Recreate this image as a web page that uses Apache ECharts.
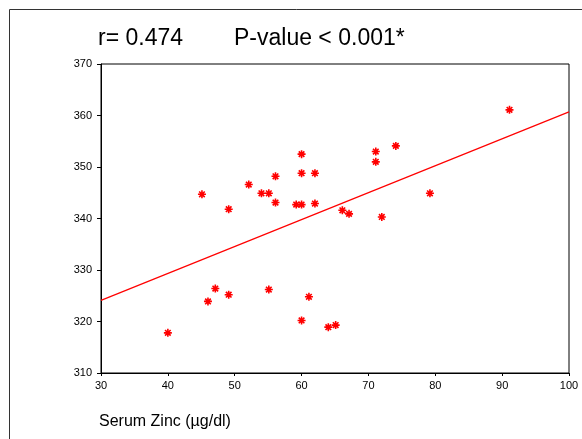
<!DOCTYPE html>
<html>
<head>
<meta charset="utf-8">
<script src="https://cdn.jsdelivr.net/npm/echarts@6/dist/echarts.min.js"></script>
<style>html,body{margin:0;padding:0;background:#fff}#c{width:582px;height:439px}</style>
</head>
<body>
<div id="c"></div>
<script>
const zincX = [40, 45.1, 49.1, 52.1, 54.0, 55.1, 56.1, 56.1, 59.2, 60.0, 60.0, 60.0, 62.0, 62.0, 66.1, 67.1, 71.1, 71.1, 74.1, 72.0, 79.2, 91.1, 46.0, 47.1, 49.1, 55.1, 61.1, 60.0, 64.0, 65.1];
const valueY = [317.8, 344.7, 341.8, 346.6, 344.9, 344.9, 348.2, 343.1, 342.7, 342.7, 352.5, 348.8, 348.8, 342.9, 341.6, 340.9, 353.0, 351.0, 354.1, 340.3, 344.9, 361.1, 323.9, 326.4, 325.2, 326.2, 324.8, 320.2, 318.9, 319.3];
const fitX = [30, 100];
const fitY = [324.1, 360.7];
const xTicks = {min: 30, max: 100, interval: 10};
const yTicks = {min: 310, max: 370, interval: 10};
const rText = 'r= 0.474';
const pText = 'P-value < 0.001*';
const xTitle = 'Serum Zinc (\u00b5g/dl)';

const points = zincX.map((x, i) => [x, valueY[i]]);
const fitLine = fitX.map((x, i) => [x, fitY[i]]);

const chart = echarts.init(document.getElementById('c'), null, {renderer: 'canvas'});
const star = 'path://M0 5 L10 5 M5 0 L5 10 M1.5 1.5 L8.5 8.5 M8.5 1.5 L1.5 8.5';
const titleFont = '23px "Liberation Sans", Arial';
chart.setOption({
  animation: false,
  backgroundColor: '#fff',
  graphic: [
    {type: 'rect', shape: {x: 9.5, y: 9.5, width: 700, height: 600}, style: {fill: 'none', stroke: '#333', lineWidth: 1}, z: -1},
    {type: 'text', left: 98, top: 27, style: {text: rText, font: titleFont, fill: '#000'}},
    {type: 'text', left: 234, top: 27, style: {text: pText, font: titleFont, fill: '#000'}},
    {type: 'text', left: 99, top: 414, style: {text: xTitle, font: '16px "Liberation Sans", Arial', fill: '#000'}}
  ],
  grid: {left: 101, top: 64, right: 13, bottom: 66, show: true, borderColor: '#000', borderWidth: 1, containLabel: false},
  xAxis: {
    type: 'value', min: xTicks.min, max: xTicks.max, interval: xTicks.interval,
    splitLine: {show: false},
    axisLine: {onZero: false, lineStyle: {color: '#000', width: 1}},
    axisTick: {show: true, length: 3, inside: false, lineStyle: {color: '#000'}},
    axisLabel: {color: '#000', fontSize: 11, fontFamily: '"Liberation Sans", Arial', margin: 7}
  },
  yAxis: {
    type: 'value', min: yTicks.min, max: yTicks.max, interval: yTicks.interval,
    splitLine: {show: false},
    axisLine: {onZero: false, lineStyle: {color: '#000', width: 1}},
    axisTick: {show: true, length: 4, inside: false, lineStyle: {color: '#000'}},
    axisLabel: {color: '#000', fontSize: 11, fontFamily: '"Liberation Sans", Arial', margin: 9}
  },
  series: [
    {
      type: 'line', data: fitLine, showSymbol: false, symbol: 'none',
      lineStyle: {color: '#ff0000', width: 1.2}, silent: true, z: 2
    },
    {
      type: 'scatter', data: points, symbol: star, symbolSize: 8,
      itemStyle: {color: 'rgba(0,0,0,0)', borderColor: '#ff0000', borderWidth: 1.6, opacity: 1}, z: 3
    }
  ]
});
</script>
</body>
</html>
